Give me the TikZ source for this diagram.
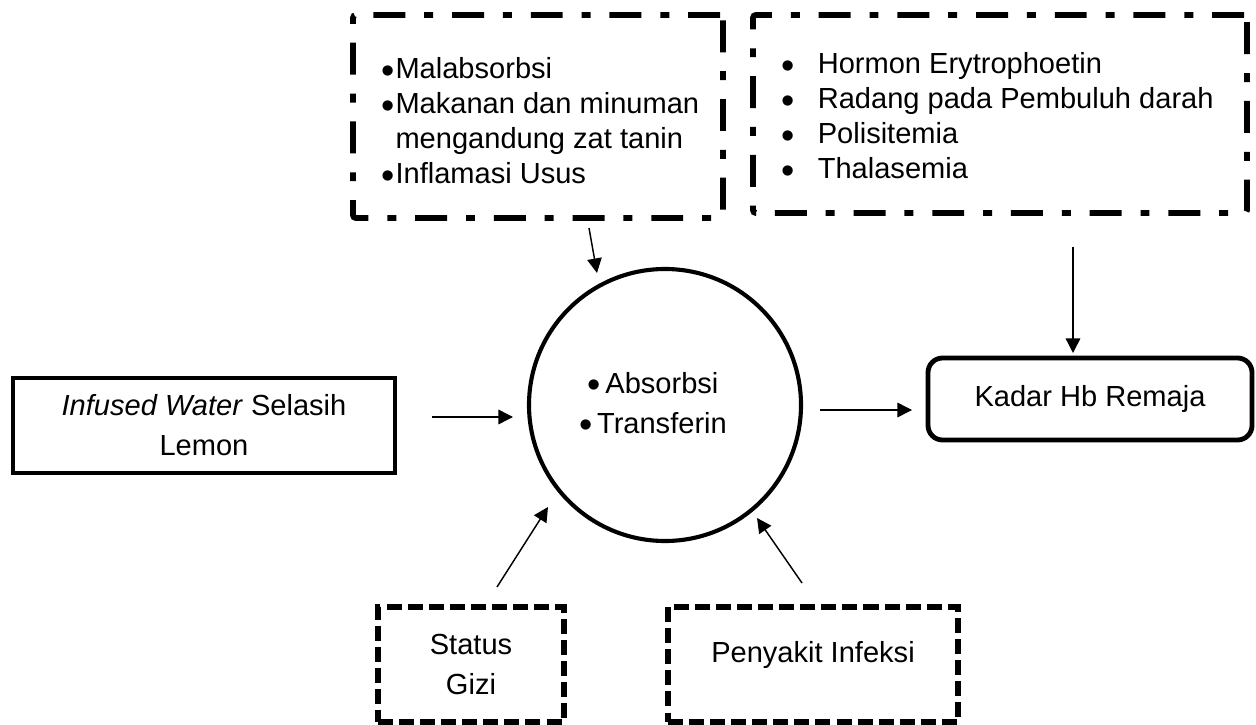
\documentclass[tikz,border=0pt]{standalone}
\usepackage{fontspec}
\setmainfont{Liberation Sans}
\usepackage{graphicx}
\usepackage{tikz}
\usetikzlibrary{arrows.meta,calc}
\newcommand{\pxu}{0.413pt}
\newcommand{\bul}{\raisebox{-2pt}{\scalebox{1.3}{\textbullet}}}
\newcommand{\butir}[2]{\makebox[#1][l]{\bul}#2}

\begin{document}
\begin{tikzpicture}[x=0.413pt,y=-0.413pt,
  teks/.style={font=\fontsize{12pt}{16.5pt}\selectfont, align=center, inner sep=0pt, outer sep=0pt},
  daftar/.style={font=\fontsize{12pt}{14.5pt}\selectfont, align=left, inner sep=0pt, anchor=north west},
  kotak/.style={teks, draw, line width=2pt},
  lingkar/.style={teks, draw, circle, line width=1.7pt, minimum size=272*\pxu},
  titiktitik/.style={draw, line width=2.4pt, rounded corners=1.2pt, inner sep=0pt, outer sep=0pt,
    dash pattern=on 13.2pt off 7.8pt on 3.7pt off 7.8pt},
  putus/.style={teks, draw, line width=2.1pt, dash pattern=on 6.2pt off 2.5pt},
  panah/.style={line width=0.6pt, -{Triangle[length=6pt,width=6pt]}}
]
\useasboundingbox (0,0) rectangle (1256,725);
\node[kotak, minimum width=382*\pxu, minimum height=95*\pxu] (masukan) at (204,425.5) {\textit{Infused Water} Selasih\\Lemon};
\node[lingkar] (serap) at (665,405) {\bul\,Absorbsi\hspace*{10pt}\\\bul\,Transferin\hspace*{10pt}};
\node[kotak, rounded corners=6pt, minimum width=324*\pxu, minimum height=82*\pxu] (hasil) at (1090,399) {Kadar Hb Remaja};
\node[titiktitik, minimum width=370*\pxu, minimum height=203*\pxu] (penghambat) at (538,116.5) {};
\node[daftar] (penghambat-isi) at (381,57) {\butir{5.8pt}{Malabsorbsi}\\\butir{5.8pt}{Makanan dan minuman}\\\hspace*{5.8pt}mengandung zat tanin\\\butir{5.8pt}{Inflamasi Usus}};
\node[titiktitik, minimum width=494*\pxu, minimum height=198*\pxu] (pengaruh) at (1000,114) {};
\node[daftar] (pengaruh-isi) at (781,52) {\butir{15pt}{Hormon Erytrophoetin}\\\butir{15pt}{Radang pada Pembuluh darah}\\\butir{15pt}{Polisitemia}\\\butir{15pt}{Thalasemia}};
\node[putus, minimum width=186*\pxu, minimum height=115*\pxu] (gizi) at (471,664.5) {Status\\Gizi};
\node[putus, minimum width=290*\pxu, minimum height=115*\pxu, text depth=26*\pxu] (infeksi) at (813,664.5) {Penyakit Infeksi};
\draw[panah] ($(masukan.east)+(37,-8.5)$) -- ($(serap.west)+(-16,12)$);
\draw[panah] ($(serap.east)+(19,5)$) -- ($(hasil.west)+(-16,11)$);
\draw[panah] ($(penghambat.south)+(51,10)$) -- ($(serap.north)+(-68,4)$);
\draw[panah] ($(pengaruh.south)+(73,34)$) -- ($(hasil.north)+(-17,-5)$);
\draw[panah] ($(gizi.north)+(26,-20)$) -- ($(serap.center)+(-117,102)$);
\draw[panah] ($(infeksi.north)+(-11,-24)$) -- ($(serap.center)+(92,113)$);
\end{tikzpicture}
\end{document}
